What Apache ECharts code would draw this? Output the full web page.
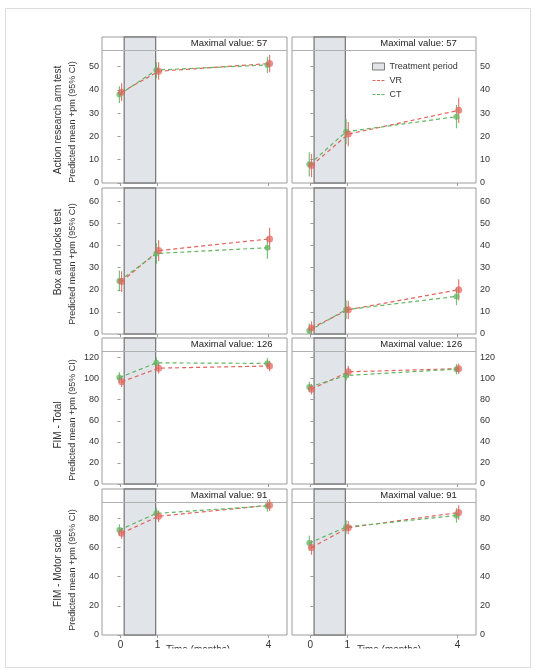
<!DOCTYPE html>
<html>
<head>
<meta charset="utf-8">
<script src="https://cdn.jsdelivr.net/npm/echarts@6/dist/echarts.min.js"></script>
<style>html,body{margin:0;padding:0;background:#fff;}#c{width:535px;height:669px;}</style>
</head>
<body>
<div id="c"></div>
<script>
// ---- data ----
const timepoints = [0, 1, 4];
const rowTitles = ['Action research arm test', 'Box and blocks test', 'FIM - Total', 'FIM - Motor scale'];
const yLabelTitle = 'Predicted mean +pm (95% CI)';
const maximalValues = [57, null, 126, 91];
const yAxisMax = [62.7, 66, 138.6, 100.1];
const yTicksARAT = [0, 10, 20, 30, 40, 50];
const yTicksBBT = [0, 10, 20, 30, 40, 50, 60];
const yTicksFIM = [0, 20, 40, 60, 80, 100, 120];
const yTicksMotor = [0, 20, 40, 60, 80];
const xTicks = [0, 1, 4];
const treatmentPeriod = [0.1, 0.95];

// ARAT, left
const aratL_vr = [39, 48, 51.3], aratL_vr_lo = [35.2, 44.3, 47.6], aratL_vr_hi = [42.8, 51.9, 55.0];
const aratL_ct = [38, 48.5, 50.7], aratL_ct_lo = [34.4, 45, 47.2], aratL_ct_hi = [41.6, 52, 54.2];
// ARAT, right
const aratR_vr = [7.5, 21, 31.2], aratR_vr_lo = [2.5, 15.8, 25.8], aratR_vr_hi = [12.5, 26.2, 36.6];
const aratR_ct = [8, 22, 28.5], aratR_ct_lo = [2.8, 16.6, 23.5], aratR_ct_hi = [13.2, 27.4, 33.5];
// BBT, left
const bbtL_vr = [23.7, 37.7, 43], bbtL_vr_lo = [19, 33, 38], bbtL_vr_hi = [28.4, 42.4, 48];
const bbtL_ct = [24, 36.4, 39], bbtL_ct_lo = [19.3, 31.7, 34], bbtL_ct_hi = [28.7, 41.1, 44];
// BBT, right
const bbtR_vr = [2.7, 11, 20], bbtR_vr_lo = [0, 6.8, 15.3], bbtR_vr_hi = [5.7, 15, 24.7];
const bbtR_ct = [1.5, 11, 17], bbtR_ct_lo = [0, 6.8, 13], bbtR_ct_hi = [4.8, 15.2, 21];
// FIM total, left
const fimL_vr = [97, 110, 112], fimL_vr_lo = [92, 105, 107], fimL_vr_hi = [102, 115, 117];
const fimL_ct = [101, 115, 114.5], fimL_ct_lo = [96, 110, 109.5], fimL_ct_hi = [106, 120, 119.5];
// FIM total, right
const fimR_vr = [90, 106.5, 109.5], fimR_vr_lo = [85, 101, 104.5], fimR_vr_hi = [95, 112, 114.5];
const fimR_ct = [92, 103, 109], fimR_ct_lo = [87, 98, 104], fimR_ct_hi = [97, 108, 114];
// FIM motor, left
const motL_vr = [69.8, 81.4, 89], motL_vr_lo = [66, 77.5, 85], motL_vr_hi = [73.6, 85.3, 93];
const motL_ct = [72, 83.4, 88.5], motL_ct_lo = [68, 79.5, 84.5], motL_ct_hi = [76, 87.3, 92.5];
// FIM motor, right
const motR_vr = [60, 73.6, 84], motR_vr_lo = [55, 69, 79], motR_vr_hi = [65, 78.2, 89];
const motR_ct = [63, 74, 82], motR_ct_lo = [58, 69.4, 77], motR_ct_hi = [68, 78.6, 87];

// ---- layout ----
const panels = [
  {vr: aratL_vr, vrLo: aratL_vr_lo, vrHi: aratL_vr_hi, ct: aratL_ct, ctLo: aratL_ct_lo, ctHi: aratL_ct_hi},
  {vr: aratR_vr, vrLo: aratR_vr_lo, vrHi: aratR_vr_hi, ct: aratR_ct, ctLo: aratR_ct_lo, ctHi: aratR_ct_hi},
  {vr: bbtL_vr, vrLo: bbtL_vr_lo, vrHi: bbtL_vr_hi, ct: bbtL_ct, ctLo: bbtL_ct_lo, ctHi: bbtL_ct_hi},
  {vr: bbtR_vr, vrLo: bbtR_vr_lo, vrHi: bbtR_vr_hi, ct: bbtR_ct, ctLo: bbtR_ct_lo, ctHi: bbtR_ct_hi},
  {vr: fimL_vr, vrLo: fimL_vr_lo, vrHi: fimL_vr_hi, ct: fimL_ct, ctLo: fimL_ct_lo, ctHi: fimL_ct_hi},
  {vr: fimR_vr, vrLo: fimR_vr_lo, vrHi: fimR_vr_hi, ct: fimR_ct, ctLo: fimR_ct_lo, ctHi: fimR_ct_hi},
  {vr: motL_vr, vrLo: motL_vr_lo, vrHi: motL_vr_hi, ct: motL_ct, ctLo: motL_ct_lo, ctHi: motL_ct_hi},
  {vr: motR_vr, vrLo: motR_vr_lo, vrHi: motR_vr_hi, ct: motR_ct, ctLo: motR_ct_lo, ctHi: motR_ct_hi}
];
const rowTicks = [yTicksARAT, yTicksBBT, yTicksFIM, yTicksMotor];
const rowTops = [37, 188, 338, 489];
const rowH = 146;
const colLeft = [102, 292];
const colW = [185, 184];
const FONT = 'Liberation Sans, Arial, sans-serif';
const VR_COLOR = '#e2625c';
const CT_COLOR = '#62b562';
const dodge = 0.03;
// dashed-line legend icon (tiny corner squares keep the 12x7 box so the dash stays thin)
const DASH_ICON = 'path://M0,0H0.01V0.01H0Z M0,2.9H3V4.1H0Z M4.5,2.9H7.5V4.1H4.5Z M9,2.9H12V4.1H9Z M11.99,6.99H12V7H11.99Z';

const grid = [], xAxis = [], yAxis = [], series = [], graphic = [];

function errSeries(name, idx, x, lo, hi, color) {
  return {
    type: 'custom', name: name, xAxisIndex: idx, yAxisIndex: idx, z: 4,
    data: x.map((t, i) => [t, lo[i], hi[i]]),
    encode: {x: 0, y: [1, 2]},
    renderItem: function (params, api) {
      const p1 = api.coord([api.value(0), api.value(1)]);
      const p2 = api.coord([api.value(0), api.value(2)]);
      return {type: 'line', shape: {x1: p1[0], y1: p1[1], x2: p2[0], y2: p2[1]},
        style: {stroke: color, lineWidth: 1.2, opacity: 0.85}};
    }
  };
}

for (let r = 0; r < 4; r++) {
  for (let c = 0; c < 2; c++) {
    const idx = r * 2 + c;
    const P = panels[idx];
    grid.push({left: colLeft[c], top: rowTops[r], width: colW[c], height: rowH,
      show: true, borderColor: '#9c9c9c', borderWidth: 1, backgroundColor: '#fff'});
    xAxis.push({
      type: 'value', gridIndex: idx, min: -0.5, max: 4.5,
      axisLine: {show: false}, splitLine: {show: false},
      axisTick: {show: true, customValues: xTicks, length: 3, lineStyle: {color: '#9c9c9c'}},
      axisLabel: {show: r === 3, customValues: xTicks, fontSize: 10, color: '#333', margin: 5, fontFamily: FONT}
    });
    yAxis.push({
      type: 'value', gridIndex: idx, min: 0, max: yAxisMax[r], position: c === 0 ? 'left' : 'right',
      axisLine: {show: false}, splitLine: {show: false},
      axisTick: {show: true, customValues: rowTicks[r], length: 3, lineStyle: {color: '#9c9c9c'}},
      axisLabel: {customValues: rowTicks[r], fontSize: 9, color: '#333', margin: c === 0 ? 3 : 4, fontFamily: FONT}
    });

    const tp = {
      type: 'line', name: 'Treatment period', xAxisIndex: idx, yAxisIndex: idx, data: [], z: 1,
      markArea: {silent: true, itemStyle: {color: '#e1e4e9', borderColor: '#7d7d7d', borderWidth: 1.3},
        data: [[{xAxis: treatmentPeriod[0]}, {xAxis: treatmentPeriod[1]}]]}
    };
    if (maximalValues[r] !== null) {
      tp.markLine = {silent: true, symbol: ['none', 'none'], label: {show: false},
        lineStyle: {color: '#b0b0b0', type: 'solid', width: 1},
        data: [{yAxis: maximalValues[r]}]};
      tp.markPoint = {silent: true, symbol: 'circle', symbolSize: 0,
        label: {show: true, position: 'right', distance: 0, formatter: 'Maximal value: ' + maximalValues[r],
          fontSize: 9.5, color: '#222', fontFamily: FONT},
        data: [{coord: [1.9, (maximalValues[r] + yAxisMax[r]) / 2]}]};
    }
    series.push(tp);

    const xv = timepoints.map(t => t + dodge);
    const xc = timepoints.map(t => t - dodge);
    series.push({type: 'line', name: 'VR', xAxisIndex: idx, yAxisIndex: idx, symbol: 'none', z: 3,
      data: xv.map((t, i) => [t, P.vr[i]]),
      lineStyle: {color: VR_COLOR, width: 1.2, type: [4, 3]}, itemStyle: {color: VR_COLOR}});
    series.push({type: 'line', name: 'CT', xAxisIndex: idx, yAxisIndex: idx, symbol: 'none', z: 3,
      data: xc.map((t, i) => [t, P.ct[i]]),
      lineStyle: {color: CT_COLOR, width: 1.2, type: [4, 3]}, itemStyle: {color: CT_COLOR}});
    series.push(errSeries('VR CI', idx, xv, P.vrLo, P.vrHi, VR_COLOR));
    series.push(errSeries('CT CI', idx, xc, P.ctLo, P.ctHi, CT_COLOR));
    series.push({type: 'scatter', name: 'CT points', xAxisIndex: idx, yAxisIndex: idx, symbol: 'circle', symbolSize: 6, z: 5,
      data: xc.map((t, i) => [t, P.ct[i]]), itemStyle: {color: CT_COLOR, opacity: 0.75}});
    series.push({type: 'scatter', name: 'VR points', xAxisIndex: idx, yAxisIndex: idx, symbol: 'circle', symbolSize: 7, z: 6,
      data: xv.map((t, i) => [t, P.vr[i]]), itemStyle: {color: VR_COLOR, opacity: 0.7}});
  }
}

// y titles
const outerCenters = [120, 252, 425, 568];
const innerCenters = [122, 264, 420, 570];
for (let r = 0; r < 4; r++) {
  graphic.push({type: 'text', x: 58, y: outerCenters[r], rotation: Math.PI / 2,
    style: {text: rowTitles[r], fontSize: 10, fill: '#333', align: 'center', verticalAlign: 'middle', fontFamily: FONT}});
  graphic.push({type: 'text', x: 73, y: innerCenters[r], rotation: Math.PI / 2,
    style: {text: yLabelTitle, fontSize: 9, fill: '#333', align: 'center', verticalAlign: 'middle', fontFamily: FONT}});
}
// x titles (partly hidden at the bottom edge, as in the source image)
graphic.push({type: 'text', x: 198, y: 645, style: {text: 'Time (months)', fontSize: 10, fill: '#333', align: 'center', verticalAlign: 'top', fontFamily: FONT}, z: 10});
graphic.push({type: 'text', x: 389, y: 645, style: {text: 'Time (months)', fontSize: 10, fill: '#333', align: 'center', verticalAlign: 'top', fontFamily: FONT}, z: 10});
graphic.push({type: 'rect', shape: {x: 100, y: 648.5, width: 400, height: 17}, style: {fill: '#fff'}, z: 11});
// outer frame
graphic.push({type: 'rect', shape: {x: 5.5, y: 8.5, width: 525, height: 659}, style: {fill: 'none', stroke: '#dcdcdc', lineWidth: 1}, z: 12});

const option = {
  animation: false,
  backgroundColor: '#fff',
  textStyle: {fontFamily: FONT},
  grid: grid, xAxis: xAxis, yAxis: yAxis, series: series, graphic: graphic,
  legend: {
    orient: 'vertical', left: 367, top: 57, itemWidth: 12, itemHeight: 7, itemGap: 5,
    textStyle: {fontSize: 9, color: '#333', fontFamily: FONT},
    data: [
      {name: 'Treatment period', icon: 'rect', itemStyle: {color: '#e1e4e9', borderColor: '#7d7d7d', borderWidth: 1}},
      {name: 'VR', icon: DASH_ICON, itemStyle: {color: VR_COLOR}},
      {name: 'CT', icon: DASH_ICON, itemStyle: {color: CT_COLOR}}
    ]
  }
};
const chart = echarts.init(document.getElementById('c'), null, {renderer: 'canvas'});
chart.setOption(option);
</script>
</body>
</html>
